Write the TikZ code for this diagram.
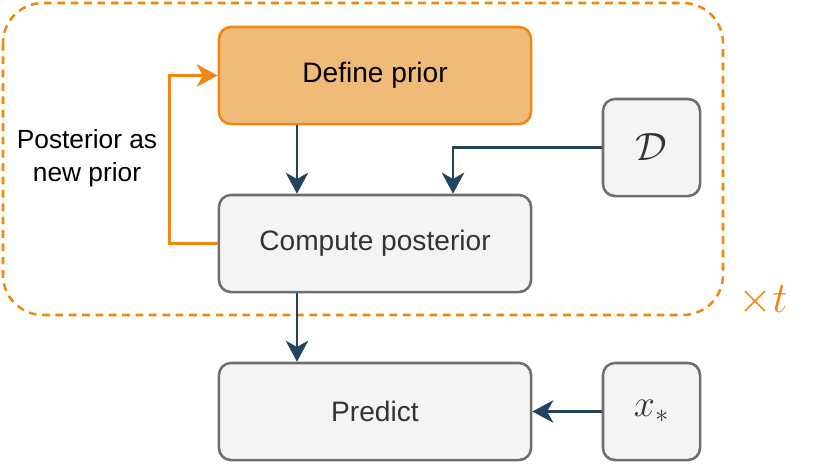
\RequirePackage{fix-cm}
\documentclass[tikz,border=0pt]{standalone}
\usepackage{fontspec}
\setmainfont{Liberation Sans}
\usepackage{tikz}
\usetikzlibrary{arrows.meta,positioning,calc}
\definecolor{LOOP-ORANGE}{RGB}{240, 135, 20}
\definecolor{PRIOR-FILL}{RGB}{240, 187, 120}
\definecolor{BOX-FILL}{RGB}{244, 244, 244}
\definecolor{BOX-LINE}{RGB}{110, 110, 110}
\definecolor{BOX-TEXT}{RGB}{51, 51, 51}
\definecolor{FLOW-BLUE}{RGB}{35, 68, 93}

\begin{document}
\begin{tikzpicture}[x=0.025cm, y=-0.025cm,
    box/.style={draw=BOX-LINE, fill=BOX-FILL, text=BOX-TEXT, line width=1.8pt,
      rounded corners=0.3cm, minimum width=7.8cm, minimum height=2.425cm,
      font=\fontsize{20}{24}\selectfont},
    smallbox/.style={box, minimum width=2.425cm, font=\fontsize{27}{30}\selectfont},
    priorbox/.style={box, draw=LOOP-ORANGE, fill=PRIOR-FILL, text=black},
    flow/.style={-{Stealth[length=15pt, width=16pt, inset=4.5pt]}, FLOW-BLUE, line width=1.8pt},
    feedback/.style={flow, LOOP-ORANGE}]
  \useasboundingbox (0,0) rectangle (830,469);

  % Repeated block (dashed loop)
  \draw[LOOP-ORANGE, line width=1.8pt, dash pattern=on 5.5pt off 4pt, rounded corners=1cm]
    (3,3) rectangle (723,315);
  \node[LOOP-ORANGE, font=\fontsize{31}{34}\selectfont] (times) at (763,301) {$\times t$};

  % Main steps
  \node[priorbox] (define) at (375,75.5) {Define prior};
  \node[box] (posterior) at (375,243.5) {Compute posterior};
  \node[box] (predict) at (375,411.5) {Predict};

  % Inputs
  \node[smallbox, font=\fontsize{28}{30}\selectfont] (data) at (651.5,147.5) {$\mathcal{D}$};
  \node[smallbox] (xstar) at (651.5,411.5) {$x_*$};

  % Feedback label
  \node[align=center, font=\fontsize{18.7}{23.5}\selectfont] (note) at (87,158)
    {Posterior as\\new prior};

  % Connectors
  \draw[flow] ([xshift=-1.95cm]define.south) -- ([xshift=-1.95cm]posterior.north);
  \draw[flow] (data.west) -| ([xshift=1.95cm]posterior.north);
  \draw[flow] ([xshift=-1.95cm]posterior.south) -- ([xshift=-1.95cm]predict.north);
  \draw[flow] (xstar.west) -- (predict.east);
  \draw[feedback] (posterior.west) -- ++(-48,0) |- (define.west);
\end{tikzpicture}
\end{document}
